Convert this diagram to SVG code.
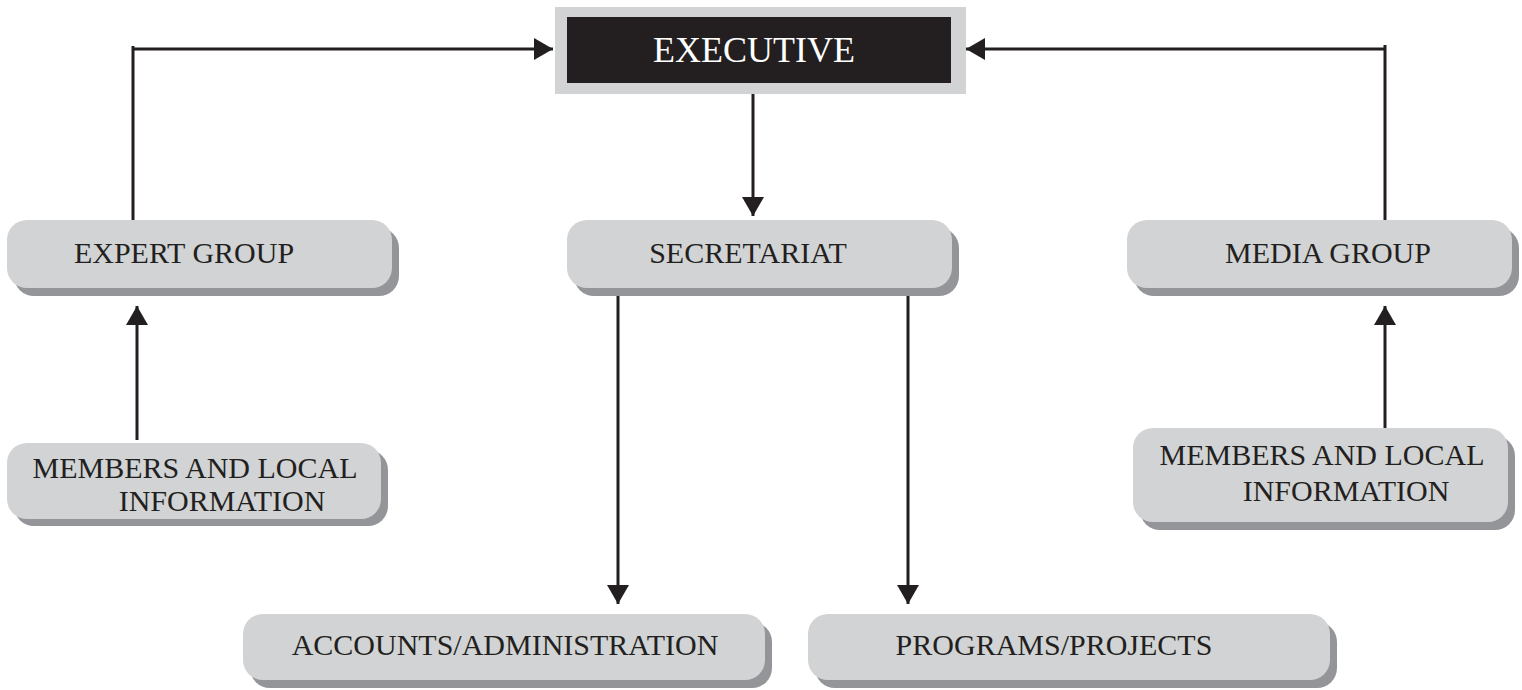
<svg xmlns="http://www.w3.org/2000/svg" width="1522" height="690" viewBox="0 0 1522 690">
<style>
.box{fill:#d1d3d4}
.sh{fill:#939598}
.t{font-family:"Liberation Serif","Times New Roman",serif;font-size:30px;fill:#231f20;text-anchor:middle}
.ex{font-family:"Liberation Serif","Times New Roman",serif;font-size:36px;fill:#ffffff;text-anchor:middle}
.ln{fill:none;stroke:#231f20;stroke-width:3}
</style>
<defs>
<marker id="ah" markerUnits="userSpaceOnUse" markerWidth="22" markerHeight="22" refX="19" refY="11" orient="auto">
<path d="M0,0 L19,11 L0,22 Z" fill="#231f20"/>
</marker>
</defs>
<rect width="1522" height="690" fill="#ffffff"/>
<g id="connectors">
<path class="ln" d="M133,220 V46 M132,49 H553" marker-end="url(#ah)"/>
<path class="ln" d="M1385,220 V45 M1386,49 H966" marker-end="url(#ah)"/>
<path class="ln" d="M753,94 V216" marker-end="url(#ah)"/>
<path class="ln" d="M618,288 V604" marker-end="url(#ah)"/>
<path class="ln" d="M908,288 V604" marker-end="url(#ah)"/>
<path class="ln" d="M137,440 V306" marker-end="url(#ah)"/>
<path class="ln" d="M1385,428 V306" marker-end="url(#ah)"/>
</g>
<g id="executive">
<rect x="555" y="7" width="411" height="87" fill="#d1d3d4"/>
<rect x="567" y="17" width="384" height="66" fill="#231f20"/>
<text class="ex" x="754" y="62">EXECUTIVE</text>
</g>
<g id="expert-group">
<rect class="sh" x="14" y="228" width="385" height="68" rx="20"/>
<rect class="box" x="7" y="220" width="385" height="68" rx="20"/>
<text class="t" x="184" y="263">EXPERT GROUP</text>
</g>
<g id="secretariat">
<rect class="sh" x="574" y="228" width="385" height="68" rx="20"/>
<rect class="box" x="567" y="220" width="385" height="68" rx="20"/>
<text class="t" x="748" y="263">SECRETARIAT</text>
</g>
<g id="media-group">
<rect class="sh" x="1134" y="228" width="385" height="68" rx="20"/>
<rect class="box" x="1127" y="220" width="385" height="68" rx="20"/>
<text class="t" x="1328" y="263">MEDIA GROUP</text>
</g>
<g id="members-left">
<rect class="sh" x="14" y="450" width="374" height="76" rx="20"/>
<rect class="box" x="7" y="443" width="374" height="76" rx="20"/>
<text class="t" x="195" y="478">MEMBERS AND LOCAL</text>
<text class="t" x="222" y="511">INFORMATION</text>
</g>
<g id="members-right">
<rect class="sh" x="1140" y="436" width="375" height="94" rx="20"/>
<rect class="box" x="1133" y="428" width="375" height="94" rx="20"/>
<text class="t" x="1322" y="465">MEMBERS AND LOCAL</text>
<text class="t" x="1346" y="501">INFORMATION</text>
</g>
<g id="accounts">
<rect class="sh" x="250" y="622" width="522" height="66" rx="20"/>
<rect class="box" x="243" y="614" width="522" height="66" rx="20"/>
<text class="t" x="505" y="655">ACCOUNTS/ADMINISTRATION</text>
</g>
<g id="programs">
<rect class="sh" x="815" y="622" width="522" height="66" rx="20"/>
<rect class="box" x="808" y="614" width="522" height="66" rx="20"/>
<text class="t" x="1054" y="655">PROGRAMS/PROJECTS</text>
</g>
</svg>
